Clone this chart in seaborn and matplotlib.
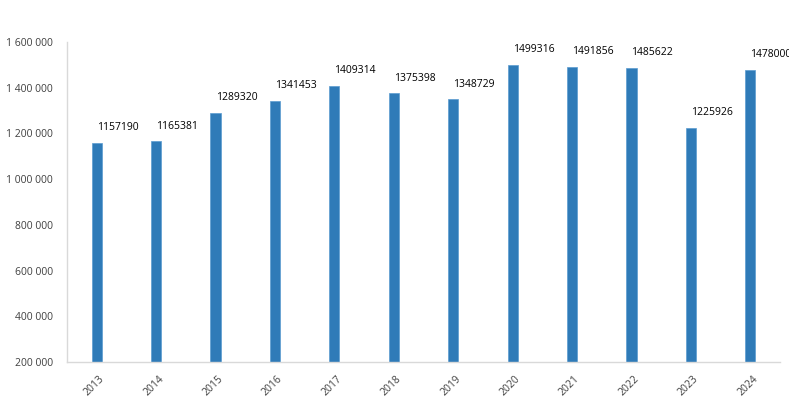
import numpy as np
import pandas as pd
import matplotlib
matplotlib.use("Agg")
import matplotlib.pyplot as plt
import matplotlib.transforms as mtransforms
import seaborn as sns
from matplotlib.ticker import FuncFormatter

# ----- données -----
annees = ["2013", "2014", "2015", "2016", "2017", "2018",
          "2019", "2020", "2021", "2022", "2023", "2024"]
valeurs = [1157190, 1165381, 1289320, 1341453, 1409314, 1375398,
           1348729, 1499316, 1491856, 1485622, 1225926, 1478000]
etiquettes = ["1157190", "1165381", "1289320", "1341453", "1409314", "1375398",
              "1348729", "1499316", "1491856", "1485622", "1225926", "1478000"]

df = pd.DataFrame({"annee": annees, "valeur": valeurs})

sns.set_theme(style="white")
plt.rcParams["font.family"] = ["Open Sans", "DejaVu Sans"]

fig = plt.figure(figsize=(7.89, 4.09), dpi=100)
ax = fig.add_axes([67 / 789, 47 / 409, 713 / 789, 320 / 409])

bleu = "#2f7bb8"
sns.barplot(data=df, x="annee", y="valeur", color=bleu, width=0.17,
            saturation=1, ax=ax, edgecolor="#5a9bd0", linewidth=0.5)

ax.set_ylim(200000, 1600000)
ax.set_xlim(-0.5, 11.5)
ax.set_yticks(np.arange(200000, 1600001, 200000))
ax.yaxis.set_major_formatter(FuncFormatter(lambda v, p: f"{int(v):,}".replace(",", " ")))
ax.set_xlabel("")
ax.set_ylabel("")

for s in ["top", "right"]:
    ax.spines[s].set_visible(False)
for s in ["left", "bottom"]:
    ax.spines[s].set_color("#d9d9d9")
    ax.spines[s].set_linewidth(1)

ax.tick_params(axis="y", length=0, labelsize=7.5, labelcolor="#404040", pad=10)
ax.tick_params(axis="x", length=0, labelsize=7.5, labelcolor="#404040", pad=11)
decalage = mtransforms.ScaledTranslation(0.06, 0, fig.dpi_scale_trans)
for lab in ax.get_xticklabels():
    lab.set_rotation(45)
    lab.set_ha("right")
    lab.set_va("center")
    lab.set_rotation_mode("anchor")
    lab.set_transform(lab.get_transform() + decalage)

# étiquettes de valeurs
for i, (v, t) in enumerate(zip(valeurs, etiquettes)):
    ax.annotate(t, (i, v), xytext=(0, 11), textcoords="offset points",
                ha="left", va="center", fontsize=7.5, color="black",
                annotation_clip=False)

fig.savefig("out.png", dpi=100)
